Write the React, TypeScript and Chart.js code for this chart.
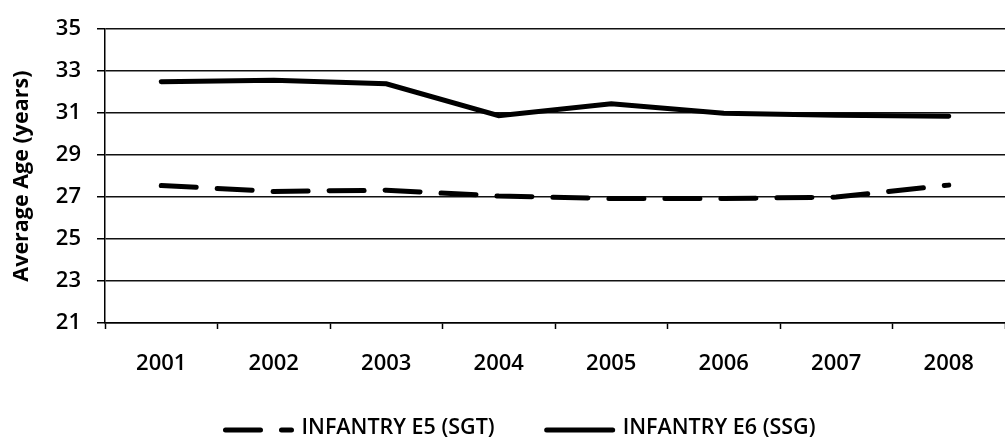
import React, { useEffect, useRef } from "react";
import { Chart, registerables } from "chart.js";

Chart.register(...registerables);

const years: string[] = ["2001", "2002", "2003", "2004", "2005", "2006", "2007", "2008"];
const e5Label = "INFANTRY E5 (SGT)";
const e6Label = "INFANTRY E6 (SSG)";
const e5Values: number[] = [27.55, 27.27, 27.33, 27.05, 26.93, 26.93, 27.0, 27.57];
const e6Values: number[] = [32.5, 32.57, 32.4, 30.88, 31.45, 31.0, 30.9, 30.85];
const yMin = 21;
const yMax = 35;
const yStep = 2;
const yAxisTitle = "Average Age (years)";

const FONT = "'Open Sans', 'Liberation Sans', sans-serif";

const legendPlugin = {
  id: "customLegend",
  afterDraw(chart: any) {
    const ctx = chart.ctx as CanvasRenderingContext2D;
    ctx.save();
    ctx.font = `600 21.5px ${FONT}`;
    const lineW = 70;
    const gap = 8;
    const itemGap = 50;
    const items = chart.data.datasets.map((ds: any) => ({
      label: ds.label as string,
      w: ctx.measureText(ds.label).width,
      dash: ds.borderDash || [],
      width: ds.borderWidth,
      color: ds.borderColor,
    }));
    const total =
      items.reduce((s: number, it: any) => s + lineW + gap + it.w, 0) +
      itemGap * (items.length - 1);
    let x = chart.width / 2 + 17 - total / 2;
    const yLine = 430;
    const yText = 428;
    for (const it of items) {
      ctx.beginPath();
      ctx.setLineDash(it.dash);
      ctx.lineCap = "round";
      ctx.lineWidth = it.width;
      ctx.strokeStyle = it.color;
      ctx.moveTo(x + 2, yLine);
      ctx.lineTo(x + lineW - 2, yLine);
      ctx.stroke();
      ctx.setLineDash([]);
      ctx.fillStyle = "#000";
      ctx.textBaseline = "middle";
      ctx.textAlign = "left";
      ctx.fillText(it.label, x + lineW + gap, yText);
      x += lineW + gap + it.w + itemGap;
    }
    ctx.restore();
  },
};

export default function App() {
  const canvasRef = useRef<HTMLCanvasElement | null>(null);

  useEffect(() => {
    if (!canvasRef.current) return;
    const chart = new Chart(canvasRef.current, {
      type: "line",
      data: {
        labels: years,
        datasets: [
          {
            label: e5Label,
            data: e5Values,
            borderColor: "#000",
            backgroundColor: "#000",
            borderWidth: 5,
            borderDash: [35, 21],
            borderCapStyle: "round",
            pointRadius: 0,
            tension: 0,
            fill: false,
          },
          {
            label: e6Label,
            data: e6Values,
            borderColor: "#000",
            backgroundColor: "#000",
            borderWidth: 5,
            borderCapStyle: "round",
            pointRadius: 0,
            tension: 0,
            fill: false,
          },
        ],
      },
      options: {
        responsive: false,
        animation: false,
        devicePixelRatio: 1,
        layout: { padding: { top: 23, right: 0, left: 0, bottom: 59 } },
        plugins: {
          legend: { display: false },
          tooltip: { enabled: false },
          title: { display: false },
        },
        scales: {
          x: {
            offset: true,
            grid: {
              offset: true,
              drawOnChartArea: false,
              drawTicks: true,
              tickLength: 6,
              tickColor: "#000",
              tickWidth: 1.5,
            },
            border: { display: true, color: "#000", width: 1.5 },
            ticks: {
              color: "#000",
              font: { family: FONT, size: 22, weight: "600" },
              padding: 22,
              maxRotation: 0,
            },
            afterFit: (scale: any) => {
              scale.height = 60;
            },
          },
          y: {
            min: yMin,
            max: yMax,
            grid: {
              color: "#111",
              lineWidth: 1.5,
              drawTicks: true,
              tickLength: 8,
              tickColor: "#000",
            },
            border: { display: true, color: "#000", width: 1.5 },
            ticks: {
              stepSize: yStep,
              color: "#000",
              font: { family: FONT, size: 22, weight: "600" },
              padding: 16,
            },
            title: {
              display: true,
              text: yAxisTitle,
              color: "#000",
              font: { family: FONT, size: 21.5, weight: "bold" },
              padding: { top: 8.6, bottom: 0 },
            },
            afterFit: (scale: any) => {
              scale.width = 105;
            },
          },
        },
      },
      plugins: [legendPlugin],
    } as any);
    return () => chart.destroy();
  }, []);

  return (
    <div style={{ position: "absolute", left: 0, top: 0, width: 1005, height: 442, background: "#fff" }}>
      <canvas ref={canvasRef} width={1005} height={442} style={{ width: 1005, height: 442, display: "block" }} />
    </div>
  );
}
